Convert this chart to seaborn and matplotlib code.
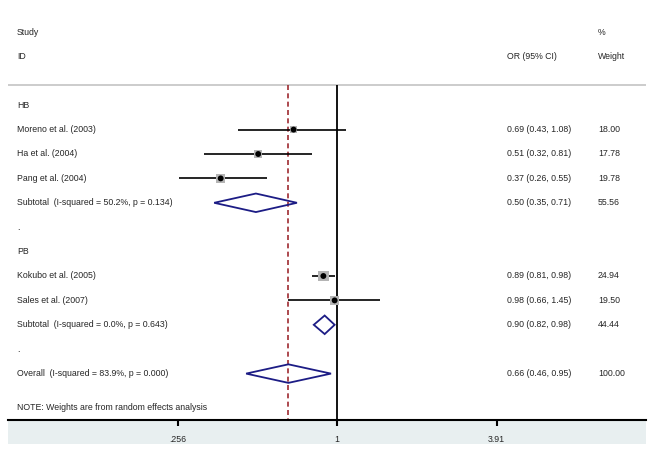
# Forest plot: OR (95% CI) by source of controls (HB / PB)
import numpy as np
import pandas as pd
import seaborn as sns
import matplotlib.pyplot as plt
from matplotlib.patches import Rectangle
from matplotlib.transforms import blended_transform_factory

# ---- data ----
groups = ['HB', 'PB']
study = ['Moreno et al. (2003)', 'Ha et al. (2004)', 'Pang et al. (2004)',
         'Kokubo et al. (2005)', 'Sales et al. (2007)']
study_group = ['HB', 'HB', 'HB', 'PB', 'PB']
or_est = [0.69, 0.51, 0.37, 0.89, 0.98]
ci_low = [0.43, 0.32, 0.26, 0.81, 0.66]
ci_high = [1.08, 0.81, 0.55, 0.98, 1.45]
weight = [18.00, 17.78, 19.78, 24.94, 19.50]

sub_label = ['Subtotal  (I-squared = 50.2%, p = 0.134)',
             'Subtotal  (I-squared = 0.0%, p = 0.643)']
sub_or = [0.50, 0.90]
sub_low = [0.35, 0.82]
sub_high = [0.71, 0.98]
sub_weight = [55.56, 44.44]

overall_label = 'Overall  (I-squared = 83.9%, p = 0.000)'
overall_or = 0.66
overall_low = 0.46
overall_high = 0.95
overall_weight = 100.00

x_ticks = [0.256, 1, 3.91]
x_tick_labels = ['.256', '1', '3.91']

note = 'NOTE: Weights are from random effects analysis'

# ---- build row layout ----
sns.set_style('white')
plt.rcParams['font.family'] = ['Liberation Sans', 'DejaVu Sans']
FS = 6.3

df = pd.DataFrame({'study': study, 'group': study_group, 'or': or_est,
                   'lo': ci_low, 'hi': ci_high, 'w': weight})
df['row'] = 0.0
pooled = []  # (label, or, lo, hi, w, row)
labels = []  # (text, row)
r = 3
for gi, g in enumerate(groups):
    labels.append((g, r))
    r += 1
    for idx in df.index[df['group'] == g]:
        df.loc[idx, 'row'] = r
        labels.append((df.loc[idx, 'study'], r))
        r += 1
    pooled.append((sub_label[gi], sub_or[gi], sub_low[gi], sub_high[gi], sub_weight[gi], r))
    labels.append((sub_label[gi], r))
    r += 1
    labels.append(('.', r))
    r += 1
pooled.append((overall_label, overall_or, overall_low, overall_high, overall_weight, r))
labels.append((overall_label, r))

# ---- figure ----
W, H = 653, 450
fig = plt.figure(figsize=(W / 100, H / 100), dpi=100)
ax_left, ax_right, ax_top, ax_bottom = 8, 646, 5, 420
ax = fig.add_axes([ax_left / W, 1 - ax_bottom / H,
                   (ax_right - ax_left) / W, (ax_bottom - ax_top) / H])
ax.patch.set_alpha(0)

row_top, row_step = 32, 24.4
ax.set_ylim((ax_bottom - row_top) / row_step, (ax_top - row_top) / row_step)
ax.set_xscale('log')
px_per_ln = 117.0
x_one = 337
ax.set_xlim(np.exp((ax_left - x_one) / px_per_ln), np.exp((ax_right - x_one) / px_per_ln))

line_row = (85 - row_top) / row_step
y_bot = ax.get_ylim()[0]

# header separator
ax.axhline(line_row, color='#c8c8c8', lw=1.3, zorder=1)

# null line and overall-effect line
ax.vlines(1, line_row, y_bot, color='black', lw=1.3, zorder=2)
ax.vlines(overall_or, line_row, y_bot, color='#9e2a30', lw=1.2,
          linestyles=(0, (3.0, 2.0)), zorder=2)

# study CIs, weight boxes and point estimates
ax.hlines(df['row'], df['lo'], df['hi'], color='black', lw=1.2, zorder=3)
sns.scatterplot(data=df, x='or', y='row', size='w', sizes=(30, 60), marker='s',
                color='#b4b4b4', edgecolor='none', legend=False, ax=ax, zorder=4)
sns.scatterplot(data=df, x='or', y='row', s=18, color='black', edgecolor='none',
                legend=False, ax=ax, zorder=5)

# pooled diamonds
half_h = 0.38
for lab, o, lo, hi, w, rr in pooled:
    ax.fill([lo, o, hi, o, lo], [rr, rr - half_h, rr, rr + half_h, rr],
            facecolor='none', edgecolor='#1c1c85', lw=1.3, zorder=4)

# text columns
tr = blended_transform_factory(ax.transAxes, ax.transData)
x_lab = (17 - ax_left) / (ax_right - ax_left)
x_or = (507 - ax_left) / (ax_right - ax_left)
x_w = (598 - ax_left) / (ax_right - ax_left)

ax.text(x_lab, 0, 'Study', transform=tr, fontsize=FS, va='center')
ax.text(x_lab, 1, 'ID', transform=tr, fontsize=FS, va='center')
ax.text(x_w, 0, '%', transform=tr, fontsize=FS, va='center')
ax.text(x_or, 1, 'OR (95% CI)', transform=tr, fontsize=FS, va='center')
ax.text(x_w, 1, 'Weight', transform=tr, fontsize=FS, va='center')

for txt, rr in labels:
    ax.text(x_lab, rr, txt, transform=tr, fontsize=FS, va='center')

for _, s in df.iterrows():
    ax.text(x_or, s['row'], f"{s['or']:.2f} ({s['lo']:.2f}, {s['hi']:.2f})",
            transform=tr, fontsize=FS, va='center')
    ax.text(x_w, s['row'], f"{s['w']:.2f}", transform=tr, fontsize=FS, va='center')
for lab, o, lo, hi, w, rr in pooled:
    ax.text(x_or, rr, f"{o:.2f} ({lo:.2f}, {hi:.2f})", transform=tr,
            fontsize=FS, va='center')
    ax.text(x_w, rr, f"{w:.2f}", transform=tr, fontsize=FS, va='center')

ax.text(x_lab, (408 - row_top) / row_step, note, transform=tr, fontsize=FS, va='center')

# axes styling
for side in ['top', 'left', 'right']:
    ax.spines[side].set_visible(False)
ax.spines['bottom'].set_color('black')
ax.spines['bottom'].set_linewidth(1.5)
ax.set_yticks([])
ax.set_xticks(x_ticks)
ax.set_xticklabels(x_tick_labels, fontsize=FS)
ax.xaxis.set_minor_locator(plt.NullLocator())
ax.tick_params(axis='x', direction='out', length=4.5, width=1.5, pad=6,
               bottom=True, color='black')
ax.set_xlabel('')
ax.set_ylabel('')

# shaded band under the axis
fig.add_artist(Rectangle((ax_left / W, 1 - 444 / H), (ax_right - ax_left) / W, 24 / H,
                         transform=fig.transFigure, facecolor='#e8eff0',
                         edgecolor='none', zorder=0))

fig.savefig('out.png', dpi=100)
